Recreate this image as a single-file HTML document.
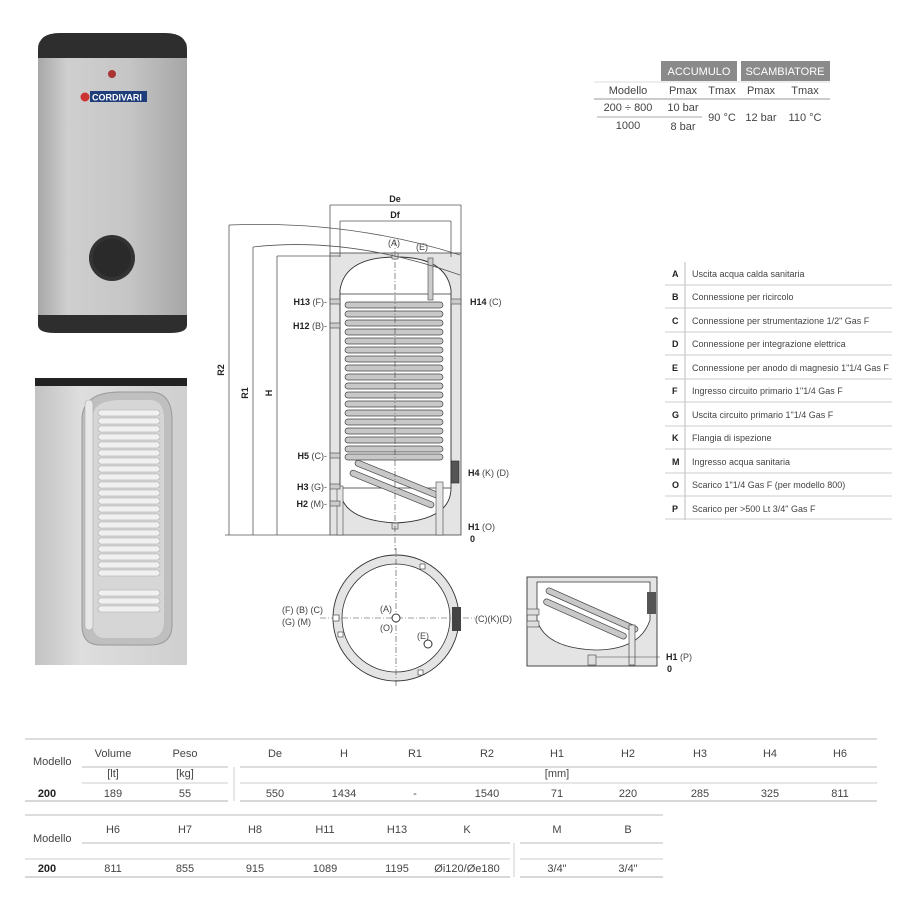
<!DOCTYPE html>
<html><head><meta charset="utf-8"><style>
html,body{margin:0;padding:0;background:#fff;}
svg{display:block;}
text{font-family:"Liberation Sans Narrow","Liberation Sans",sans-serif;fill:#444;}
.b{font-weight:bold;fill:#222;}
.s{font-size:9px;}
.m{font-size:11px;}
.d{stroke:#555;stroke-width:0.8;fill:none;}
</style></head><body>
<svg width="900" height="900" viewBox="0 0 900 900" xmlns="http://www.w3.org/2000/svg">
<defs>
<linearGradient id="g1" x1="0" x2="1" y1="0" y2="0">
<stop offset="0" stop-color="#a8a8a8"/><stop offset="0.2" stop-color="#cfcfcf"/><stop offset="0.6" stop-color="#c6c6c6"/><stop offset="1" stop-color="#a6a6a6"/></linearGradient>
<linearGradient id="g2" x1="0" x2="1" y1="0" y2="0">
<stop offset="0" stop-color="#c2c2c2"/><stop offset="0.3" stop-color="#dedede"/><stop offset="1" stop-color="#cfcfcf"/></linearGradient>
</defs>
<!-- product 1 -->
<rect x="38" y="40" width="149" height="285" rx="6" fill="url(#g1)"/>
<path d="M38 50 Q38 33 60 33 L165 33 Q187 33 187 50 L187 58 L38 58Z" fill="#2e2e2e"/>
<path d="M38 315 L187 315 L187 325 Q187 333 170 333 L55 333 Q38 333 38 325Z" fill="#2e2e2e"/>
<circle cx="112" cy="74" r="4" fill="#a33"/>
<circle cx="85" cy="97" r="4.5" fill="#c33"/>
<rect x="90" y="91" width="57" height="11" fill="#1e3d7a"/>
<text x="92" y="100.5" style="font-size:9px;font-weight:bold;fill:#fff;font-family:'Liberation Sans',sans-serif">CORDIVARI</text>
<circle cx="112" cy="258" r="23" fill="#333"/>
<circle cx="112" cy="258" r="19" fill="#2a2a2a"/>
<!-- product 2 -->
<rect x="35" y="380" width="152" height="285" fill="url(#g2)"/>
<rect x="35" y="378" width="152" height="8" fill="#222"/>
<path d="M82 420 Q82 392 120 392 L150 392 Q172 392 172 420 L172 625 Q172 645 150 645 L100 645 Q82 645 82 625Z" fill="#bfbfbf" stroke="#999"/>
<path d="M92 420 Q92 400 120 400 L150 400 Q164 400 164 420 L164 620 Q164 638 150 638 L105 638 Q92 638 92 620Z" fill="#d6d6d6"/>
<g fill="#f0f0f0" stroke="#aaa" stroke-width="0.6">
<rect x="98" y="410" width="62" height="6" rx="3"/><rect x="98" y="418" width="62" height="6" rx="3"/><rect x="98" y="426" width="62" height="6" rx="3"/><rect x="98" y="434" width="62" height="6" rx="3"/><rect x="98" y="442" width="62" height="6" rx="3"/><rect x="98" y="450" width="62" height="6" rx="3"/><rect x="98" y="458" width="62" height="6" rx="3"/><rect x="98" y="466" width="62" height="6" rx="3"/><rect x="98" y="474" width="62" height="6" rx="3"/><rect x="98" y="482" width="62" height="6" rx="3"/><rect x="98" y="490" width="62" height="6" rx="3"/><rect x="98" y="498" width="62" height="6" rx="3"/><rect x="98" y="506" width="62" height="6" rx="3"/><rect x="98" y="514" width="62" height="6" rx="3"/><rect x="98" y="522" width="62" height="6" rx="3"/><rect x="98" y="530" width="62" height="6" rx="3"/><rect x="98" y="538" width="62" height="6" rx="3"/><rect x="98" y="546" width="62" height="6" rx="3"/><rect x="98" y="554" width="62" height="6" rx="3"/><rect x="98" y="562" width="62" height="6" rx="3"/><rect x="98" y="570" width="62" height="6" rx="3"/><rect x="98" y="590" width="62" height="6" rx="3"/><rect x="98" y="598" width="62" height="6" rx="3"/><rect x="98" y="606" width="62" height="6" rx="3"/>
</g>
<rect x="85" y="400" width="8" height="230" rx="4" fill="#e8e8e8" stroke="#aaa" stroke-width="0.6"/>
<!-- top table -->
<rect x="661" y="61" width="76" height="20" fill="#8a8a8a"/>
<rect x="741" y="61" width="89" height="20" fill="#8a8a8a"/>
<text x="699" y="75" text-anchor="middle" class="m" style="fill:#fff">ACCUMULO</text>
<text x="785" y="75" text-anchor="middle" class="m" style="fill:#fff">SCAMBIATORE</text>
<line x1="594" y1="82" x2="830" y2="82" stroke="#ddd"/>
<text x="628" y="94" text-anchor="middle" class="m">Modello</text>
<text x="683" y="94" text-anchor="middle" class="m">Pmax</text>
<text x="722" y="94" text-anchor="middle" class="m">Tmax</text>
<text x="761" y="94" text-anchor="middle" class="m">Pmax</text>
<text x="805" y="94" text-anchor="middle" class="m">Tmax</text>
<line x1="594" y1="99" x2="830" y2="99" stroke="#999"/>
<text x="628" y="111" text-anchor="middle" class="m">200 ÷ 800</text>
<text x="683" y="111" text-anchor="middle" class="m">10 bar</text>
<line x1="597" y1="117" x2="702" y2="117" stroke="#aaa"/>
<text x="628" y="129" text-anchor="middle" class="m">1000</text>
<text x="683" y="130" text-anchor="middle" class="m">8 bar</text>
<text x="722" y="121" text-anchor="middle" class="m">90 °C</text>
<text x="761" y="121" text-anchor="middle" class="m">12 bar</text>
<text x="805" y="121" text-anchor="middle" class="m">110 °C</text>
<!-- legend -->
<line x1="685" y1="262" x2="685" y2="520" stroke="#bbb"/>
<g stroke="#ccc">
<line x1="665" y1="285" x2="892" y2="285"/><line x1="665" y1="308" x2="892" y2="308"/><line x1="665" y1="332" x2="892" y2="332"/><line x1="665" y1="355" x2="892" y2="355"/><line x1="665" y1="379" x2="892" y2="379"/><line x1="665" y1="402" x2="892" y2="402"/><line x1="665" y1="426" x2="892" y2="426"/><line x1="665" y1="449" x2="892" y2="449"/><line x1="665" y1="473" x2="892" y2="473"/><line x1="665" y1="496" x2="892" y2="496"/><line x1="665" y1="519" x2="892" y2="519"/>
</g>
<g class="s">
<text x="672" y="277" class="b">A</text><text x="692" y="277">Uscita acqua calda sanitaria</text>
<text x="672" y="300" class="b">B</text><text x="692" y="300">Connessione per ricircolo</text>
<text x="672" y="324" class="b">C</text><text x="692" y="324">Connessione per strumentazione 1/2" Gas F</text>
<text x="672" y="347" class="b">D</text><text x="692" y="347">Connessione per integrazione elettrica</text>
<text x="672" y="371" class="b">E</text><text x="692" y="371">Connessione per anodo di magnesio 1"1/4 Gas F</text>
<text x="672" y="394" class="b">F</text><text x="692" y="394">Ingresso circuito primario 1"1/4 Gas F</text>
<text x="672" y="418" class="b">G</text><text x="692" y="418">Uscita circuito primario 1"1/4 Gas F</text>
<text x="672" y="441" class="b">K</text><text x="692" y="441">Flangia di ispezione</text>
<text x="672" y="465" class="b">M</text><text x="692" y="465">Ingresso acqua sanitaria</text>
<text x="672" y="488" class="b">O</text><text x="692" y="488">Scarico 1"1/4 Gas F (per modello 800)</text>
<text x="672" y="512" class="b">P</text><text x="692" y="512">Scarico per &gt;500 Lt  3/4" Gas F</text>
</g>
<!-- main drawing -->
<rect x="330" y="253" width="131" height="282" fill="#e4e4e4" stroke="#444" stroke-width="0.8"/>
<line x1="330" y1="205" x2="330" y2="253" class="d"/><line x1="461" y1="205" x2="461" y2="253" class="d"/>
<line x1="340" y1="221" x2="340" y2="257" class="d"/><line x1="451" y1="221" x2="451" y2="257" class="d"/>
<line x1="330" y1="205" x2="461" y2="205" class="d"/><line x1="340" y1="221" x2="451" y2="221" class="d"/>
<text x="395" y="202" text-anchor="middle" class="b s">De</text>
<text x="395" y="218" text-anchor="middle" class="b s">Df</text>
<path d="M340 290 Q345 257 396 257 Q446 257 451 290 L451 488 Q451 520 396 523 Q340 520 340 488Z" fill="#fff" stroke="#333" stroke-width="0.9"/>
<line x1="340" y1="294" x2="451" y2="294" stroke="#333" stroke-width="0.8"/>
<line x1="340" y1="488" x2="451" y2="488" stroke="#333" stroke-width="0.8"/>
<g fill="#c8c8c8" stroke="#444" stroke-width="0.7">
<rect x="345" y="302" width="98" height="6" rx="3"/><rect x="345" y="311" width="98" height="6" rx="3"/><rect x="345" y="320" width="98" height="6" rx="3"/><rect x="345" y="329" width="98" height="6" rx="3"/><rect x="345" y="338" width="98" height="6" rx="3"/><rect x="345" y="347" width="98" height="6" rx="3"/><rect x="345" y="356" width="98" height="6" rx="3"/><rect x="345" y="365" width="98" height="6" rx="3"/><rect x="345" y="374" width="98" height="6" rx="3"/><rect x="345" y="383" width="98" height="6" rx="3"/><rect x="345" y="392" width="98" height="6" rx="3"/><rect x="345" y="401" width="98" height="6" rx="3"/><rect x="345" y="410" width="98" height="6" rx="3"/><rect x="345" y="419" width="98" height="6" rx="3"/><rect x="345" y="428" width="98" height="6" rx="3"/><rect x="345" y="437" width="98" height="6" rx="3"/><rect x="345" y="446" width="98" height="6" rx="3"/><rect x="345" y="454" width="98" height="6" rx="3"/>
<rect x="352" y="476" width="90" height="6" rx="3" transform="rotate(22 397 479)"/>
<rect x="347" y="486" width="90" height="6" rx="3" transform="rotate(22 392 489)"/>
</g>
<rect x="428" y="258" width="5" height="42" fill="#ccc" stroke="#444" stroke-width="0.6"/>
<rect x="436" y="482" width="7" height="53" fill="#e4e4e4" stroke="#444" stroke-width="0.6"/>
<rect x="337" y="486" width="6" height="49" fill="#e4e4e4" stroke="#444" stroke-width="0.6"/>
<rect x="392" y="253" width="6" height="6" fill="#ddd" stroke="#444" stroke-width="0.6"/>
<rect x="392" y="523" width="6" height="6" fill="#ddd" stroke="#444" stroke-width="0.6"/>
<rect x="451" y="461" width="8" height="22" fill="#555" stroke="#222" stroke-width="0.6"/>
<line x1="395" y1="240" x2="395" y2="550" stroke="#444" stroke-width="0.6" stroke-dasharray="6,2,1,2"/>
<g fill="#ccc" stroke="#444" stroke-width="0.6">
<rect x="330" y="299" width="10" height="5"/><rect x="330" y="323" width="10" height="5"/><rect x="330" y="453" width="10" height="5"/><rect x="330" y="484" width="10" height="5"/><rect x="330" y="501" width="10" height="5"/><rect x="451" y="299" width="10" height="5"/>
</g>
<!-- dims -->
<g class="d">
<line x1="229" y1="225" x2="229" y2="535"/><line x1="253" y1="247" x2="253" y2="535"/><line x1="277" y1="256" x2="277" y2="535"/>
<line x1="225" y1="535" x2="330" y2="535"/>
<path d="M229 225 Q350 220 460 255"/><path d="M253 247 Q350 236 460 275"/><path d="M277 256 L340 256"/>
</g>
<text transform="translate(224,370) rotate(-90)" text-anchor="middle" class="b s">R2</text>
<text transform="translate(248,393) rotate(-90)" text-anchor="middle" class="b s">R1</text>
<text transform="translate(272,393) rotate(-90)" text-anchor="middle" class="b s">H</text>
<g class="s">
<text x="394" y="246" text-anchor="middle">(A)</text><text x="422" y="250" text-anchor="middle">(E)</text>
<text x="327" y="305" text-anchor="end"><tspan class="b">H13</tspan> (F)-</text>
<text x="327" y="329" text-anchor="end"><tspan class="b">H12</tspan> (B)-</text>
<text x="327" y="459" text-anchor="end"><tspan class="b">H5</tspan> (C)-</text>
<text x="327" y="490" text-anchor="end"><tspan class="b">H3</tspan> (G)-</text>
<text x="327" y="507" text-anchor="end"><tspan class="b">H2</tspan> (M)-</text>
<text x="470" y="305"><tspan class="b">H14</tspan> (C)</text>
<text x="468" y="476"><tspan class="b">H4</tspan> (K) (D)</text>
<text x="468" y="530"><tspan class="b">H1</tspan> (O)</text>
<text x="470" y="542" class="b">0</text>
</g>
<!-- plan -->
<circle cx="396" cy="618" r="63" fill="#e4e4e4" stroke="#333" stroke-width="0.9"/>
<circle cx="396" cy="618" r="54" fill="#fff" stroke="#333" stroke-width="0.8"/>
<line x1="320" y1="618" x2="475" y2="618" stroke="#444" stroke-width="0.6" stroke-dasharray="6,2,1,2"/>
<line x1="396" y1="548" x2="396" y2="688" stroke="#444" stroke-width="0.6" stroke-dasharray="6,2,1,2"/>
<circle cx="396" cy="618" r="4" fill="#fff" stroke="#333"/>
<circle cx="428" cy="644" r="4" fill="#fff" stroke="#333"/>
<g fill="#fff" stroke="#333" stroke-width="0.6"><rect x="333" y="615" width="6" height="6"/><rect x="338" y="632" width="5" height="5"/><rect x="420" y="564" width="5" height="5"/><rect x="418" y="670" width="5" height="5"/></g>
<rect x="452" y="607" width="9" height="24" fill="#444"/>
<g class="s">
<text x="282" y="613">(F) (B) (C)</text><text x="282" y="625">(G) (M)</text>
<text x="380" y="612">(A)</text><text x="380" y="631">(O)</text><text x="417" y="639">(E)</text>
<text x="475" y="622">(C)(K)(D)</text>
</g>
<!-- side view -->
<rect x="527" y="577" width="130" height="89" fill="#e4e4e4" stroke="#333" stroke-width="0.9"/>
<path d="M537 582 L650 582 L650 620 Q640 650 595 650 Q545 648 537 620Z" fill="#fff" stroke="#333" stroke-width="0.8"/>
<g fill="#c8c8c8" stroke="#444" stroke-width="0.7">
<rect x="542" y="607" width="100" height="6" rx="3" transform="rotate(24 592 610)"/>
<rect x="540" y="616" width="90" height="6" rx="3" transform="rotate(24 585 619)"/>
</g>
<rect x="629" y="625" width="6" height="40" fill="#e4e4e4" stroke="#333" stroke-width="0.6"/>
<rect x="647" y="592" width="9" height="22" fill="#555"/>
<rect x="527" y="609" width="12" height="6" fill="#ddd" stroke="#444" stroke-width="0.6"/>
<rect x="527" y="621" width="12" height="6" fill="#ddd" stroke="#444" stroke-width="0.6"/>
<rect x="588" y="655" width="8" height="10" fill="#ddd" stroke="#444" stroke-width="0.6"/>
<line x1="596" y1="657" x2="660" y2="657" stroke="#444" stroke-width="0.6"/>
<text x="666" y="660" class="s"><tspan class="b">H1</tspan> (P)</text>
<text x="667" y="672" class="s b">0</text>
<!-- bottom table 1 -->
<g font-size="11">
<line x1="25" y1="739" x2="877" y2="739" stroke="#ddd" stroke-width="2"/>
<text x="33" y="765" class="m">Modello</text>
<g text-anchor="middle" class="m">
<text x="113" y="757">Volume</text><text x="185" y="757">Peso</text><text x="275" y="757">De</text><text x="344" y="757">H</text><text x="415" y="757">R1</text><text x="487" y="757">R2</text><text x="557" y="757">H1</text><text x="628" y="757">H2</text><text x="700" y="757">H3</text><text x="770" y="757">H4</text><text x="840" y="757">H6</text>
<text x="113" y="777">[lt]</text><text x="185" y="777">[kg]</text><text x="557" y="777">[mm]</text>
<text x="47" y="797" class="b">200</text><text x="113" y="797">189</text><text x="185" y="797">55</text><text x="275" y="797">550</text><text x="344" y="797">1434</text><text x="415" y="797">-</text><text x="487" y="797">1540</text><text x="557" y="797">71</text><text x="628" y="797">220</text><text x="700" y="797">285</text><text x="770" y="797">325</text><text x="840" y="797">811</text>
</g>
<line x1="82" y1="767" x2="228" y2="767" stroke="#bbb"/><line x1="240" y1="767" x2="877" y2="767" stroke="#bbb"/>
<line x1="82" y1="783" x2="228" y2="783" stroke="#ccc"/><line x1="240" y1="783" x2="877" y2="783" stroke="#ccc"/>
<line x1="25" y1="801" x2="228" y2="801" stroke="#ccc" stroke-width="1.5"/><line x1="240" y1="801" x2="877" y2="801" stroke="#ccc" stroke-width="1.5"/>
<line x1="234" y1="767" x2="234" y2="801" stroke="#ccc"/>
<!-- table 2 -->
<line x1="25" y1="815" x2="663" y2="815" stroke="#ddd" stroke-width="2"/>
<text x="33" y="842" class="m">Modello</text>
<g text-anchor="middle" class="m">
<text x="113" y="833">H6</text><text x="185" y="833">H7</text><text x="255" y="833">H8</text><text x="325" y="833">H11</text><text x="397" y="833">H13</text><text x="467" y="833">K</text><text x="557" y="833">M</text><text x="628" y="833">B</text>
<text x="47" y="872" class="b">200</text><text x="113" y="872">811</text><text x="185" y="872">855</text><text x="255" y="872">915</text><text x="325" y="872">1089</text><text x="397" y="872">1195</text><text x="467" y="872">Øi120/Øe180</text><text x="557" y="872">3/4"</text><text x="628" y="872">3/4"</text>
</g>
<line x1="82" y1="843" x2="510" y2="843" stroke="#bbb"/><line x1="520" y1="843" x2="663" y2="843" stroke="#bbb"/>
<line x1="25" y1="859" x2="510" y2="859" stroke="#ccc"/><line x1="520" y1="859" x2="663" y2="859" stroke="#ccc"/>
<line x1="25" y1="877" x2="510" y2="877" stroke="#ccc" stroke-width="1.5"/><line x1="520" y1="877" x2="663" y2="877" stroke="#ccc" stroke-width="1.5"/>
<line x1="514" y1="843" x2="514" y2="877" stroke="#ccc"/>
</g>
</svg>
</body></html>
